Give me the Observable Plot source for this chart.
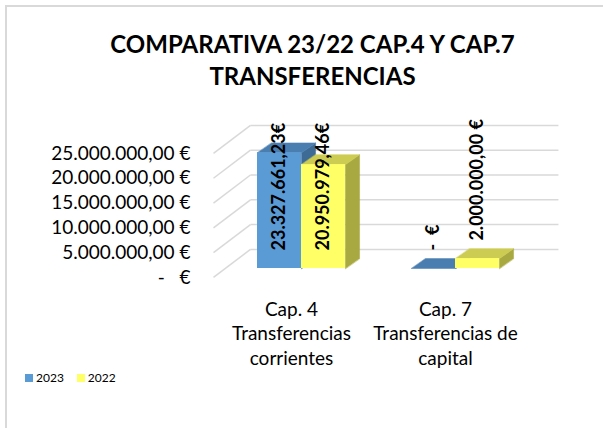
<!DOCTYPE html>
<html>
<head>
<meta charset="utf-8">
<script src="https://cdn.jsdelivr.net/npm/d3@7"></script>
<script src="https://cdn.jsdelivr.net/npm/@observablehq/plot@0.6"></script>
<style>
  body { margin: 0; background: #fff; }
  #wrap { position: relative; width: 603px; height: 428px; overflow: hidden; font-family: Lato, "Open Sans", sans-serif; color: #000; }
  #frame { position: absolute; left: 5px; top: 5px; width: 700px; height: 600px; border-left: 2px solid #d9d9d9; border-top: 2px solid #d9d9d9; }
  #title { position: absolute; left: 0; top: 28px; width: 625px; text-align: center; font-weight: bold; font-size: 24px; line-height: 32px; }
  #chart { position: absolute; left: 0; top: 0; }
  #legend { position: absolute; left: 25px; top: 370px; font-size: 12px; display: flex; align-items: center; }
  #legend .item { display: flex; align-items: center; margin-right: 13px; }
  #legend .sw { width: 8px; height: 8px; margin-right: 3px; }
</style>
</head>
<body>
<div id="wrap">
  <div id="frame"></div>
  <div id="chart"></div>
  <div id="title">COMPARATIVA 23/22 CAP.4 Y CAP.7<br>TRANSFERENCIAS</div>
  <div id="legend"></div>
</div>
<script>
// ---- data ----
const categories = ["Cap. 4\nTransferencias\ncorrientes", "Cap. 7\nTransferencias de\ncapital"];
const seriesNames = ["2023", "2022"];
const values2023 = [23327661.23, 0];
const values2022 = [20950979.46, 2000000];
const labels2023 = ["23.327.661,23€", "-  €"];
const labels2022 = ["20.950.979,46€", "2.000.000,00 €"];
const yTicks = [0, 5000000, 10000000, 15000000, 20000000, 25000000];
const yTickLabels = ["-   €", "5.000.000,00 €", "10.000.000,00 €", "15.000.000,00 €", "20.000.000,00 €", "25.000.000,00 €"];

// ---- styles / geometry ----
const palette = {
  "2023": { front: "#5b9bd5", top: "#4a7eb0", side: "#3e6b96" },
  "2022": { front: "#ffff66", top: "#cccc52", side: "#a9a941" }
};
const GROUP_STEP = 3.5;      // category spacing in bar widths
const DEPTH_U = 0.32;        // bar depth, x (bar widths)
const DEPTH_V = 2.0e6;       // bar depth, y (value units)
const WALL_FRONT_U = -1.0, WALL_BACK_U = -0.16, WALL_RIGHT_U = 6.84;
const WALL_FRONT_DV = -1.8e6, WALL_BACK_DV = 3.85e6;
const SHORT_BAR = 5e6;       // labels of short bars sit above the bar
const nb = s => s.replace(/ /g, "\u00a0");

const valuesBySeries = { "2023": values2023, "2022": values2022 };
const labelsBySeries = { "2023": labels2023, "2022": labels2022 };

const bars = [];
categories.forEach((c, ci) => {
  seriesNames.forEach((s, si) => {
    bars.push({ cat: c, series: s, u0: ci * GROUP_STEP + si, value: valuesBySeries[s][ci], label: labelsBySeries[s][ci] });
  });
});

function poly(kind) {
  const out = [];
  bars.forEach((b, i) => {
    let pts;
    if (kind === "top") {
      pts = [[b.u0, b.value], [b.u0 + 1, b.value], [b.u0 + 1 + DEPTH_U, b.value + DEPTH_V], [b.u0 + DEPTH_U, b.value + DEPTH_V]];
    } else {
      pts = [[b.u0 + 1, 0], [b.u0 + 1, b.value], [b.u0 + 1 + DEPTH_U, b.value + DEPTH_V], [b.u0 + 1 + DEPTH_U, DEPTH_V]];
    }
    pts.forEach(([x, y]) => out.push({ id: kind + i, series: b.series, x, y }));
  });
  return out;
}
const tops = poly("top");
const sides = poly("side");

const barMarks = [];
seriesNames.forEach(s => {
  const p = palette[s];
  barMarks.push(
    Plot.line(sides.filter(d => d.series === s), { x: "x", y: "y", z: "id", fill: p.side, stroke: p.side, strokeWidth: 0.5, curve: "linear-closed" }),
    Plot.line(tops.filter(d => d.series === s), { x: "x", y: "y", z: "id", fill: p.top, stroke: p.top, strokeWidth: 0.5, curve: "linear-closed" }),
    Plot.rect(bars.filter(d => d.series === s), { x1: "u0", x2: d => d.u0 + 1, y1: () => 0, y2: "value", fill: p.front })
  );
});

const chart = Plot.plot({
  width: 603,
  height: 428,
  margin: 0,
  style: { background: "transparent", fontFamily: "Lato, 'Open Sans', sans-serif", color: "#000", overflow: "visible" },
  x: { type: "linear", domain: [0, 7], range: [257, 565], axis: null },
  y: { type: "linear", domain: [0, 25000000], range: [268, 144], axis: null },
  marks: [
    // wall gridlines
    Plot.link(yTicks, { x1: () => WALL_FRONT_U, y1: v => v + WALL_FRONT_DV, x2: () => WALL_BACK_U, y2: v => v + WALL_BACK_DV, stroke: "#d9d9d9", strokeWidth: 1.5 }),
    Plot.link(yTicks, { x1: () => WALL_BACK_U, y1: v => v + WALL_BACK_DV, x2: () => WALL_RIGHT_U, y2: v => v + WALL_BACK_DV, stroke: "#d9d9d9", strokeWidth: 1.5 }),
    // tick labels
    Plot.text(yTicks, { x: () => WALL_FRONT_U, y: v => v + WALL_FRONT_DV, text: (v, i) => nb(yTickLabels[i]), textAnchor: "end", dx: -23, fontSize: 19 }),
    ...barMarks,
    // value labels
    Plot.text(bars, { x: d => d.u0 + 0.5, y: d => (d.value < SHORT_BAR ? d.value : 0), text: d => nb(d.label), rotate: -90, textAnchor: "start", dy: -18, fontSize: 18, fontWeight: "bold" }),
    // category labels
    Plot.text(categories, { x: (d, i) => i * GROUP_STEP + 1, y: () => 0, text: d => d, dx: -10, dy: 30, lineAnchor: "top", lineHeight: 1.284, fontSize: 19 })
  ]
});
document.getElementById("chart").appendChild(chart);

const legend = document.getElementById("legend");
seriesNames.forEach(s => {
  const item = document.createElement("div");
  item.className = "item";
  const sw = document.createElement("div");
  sw.className = "sw";
  sw.style.background = palette[s].front;
  const t = document.createElement("span");
  t.textContent = s;
  item.appendChild(sw); item.appendChild(t);
  legend.appendChild(item);
});
</script>
</body>
</html>
